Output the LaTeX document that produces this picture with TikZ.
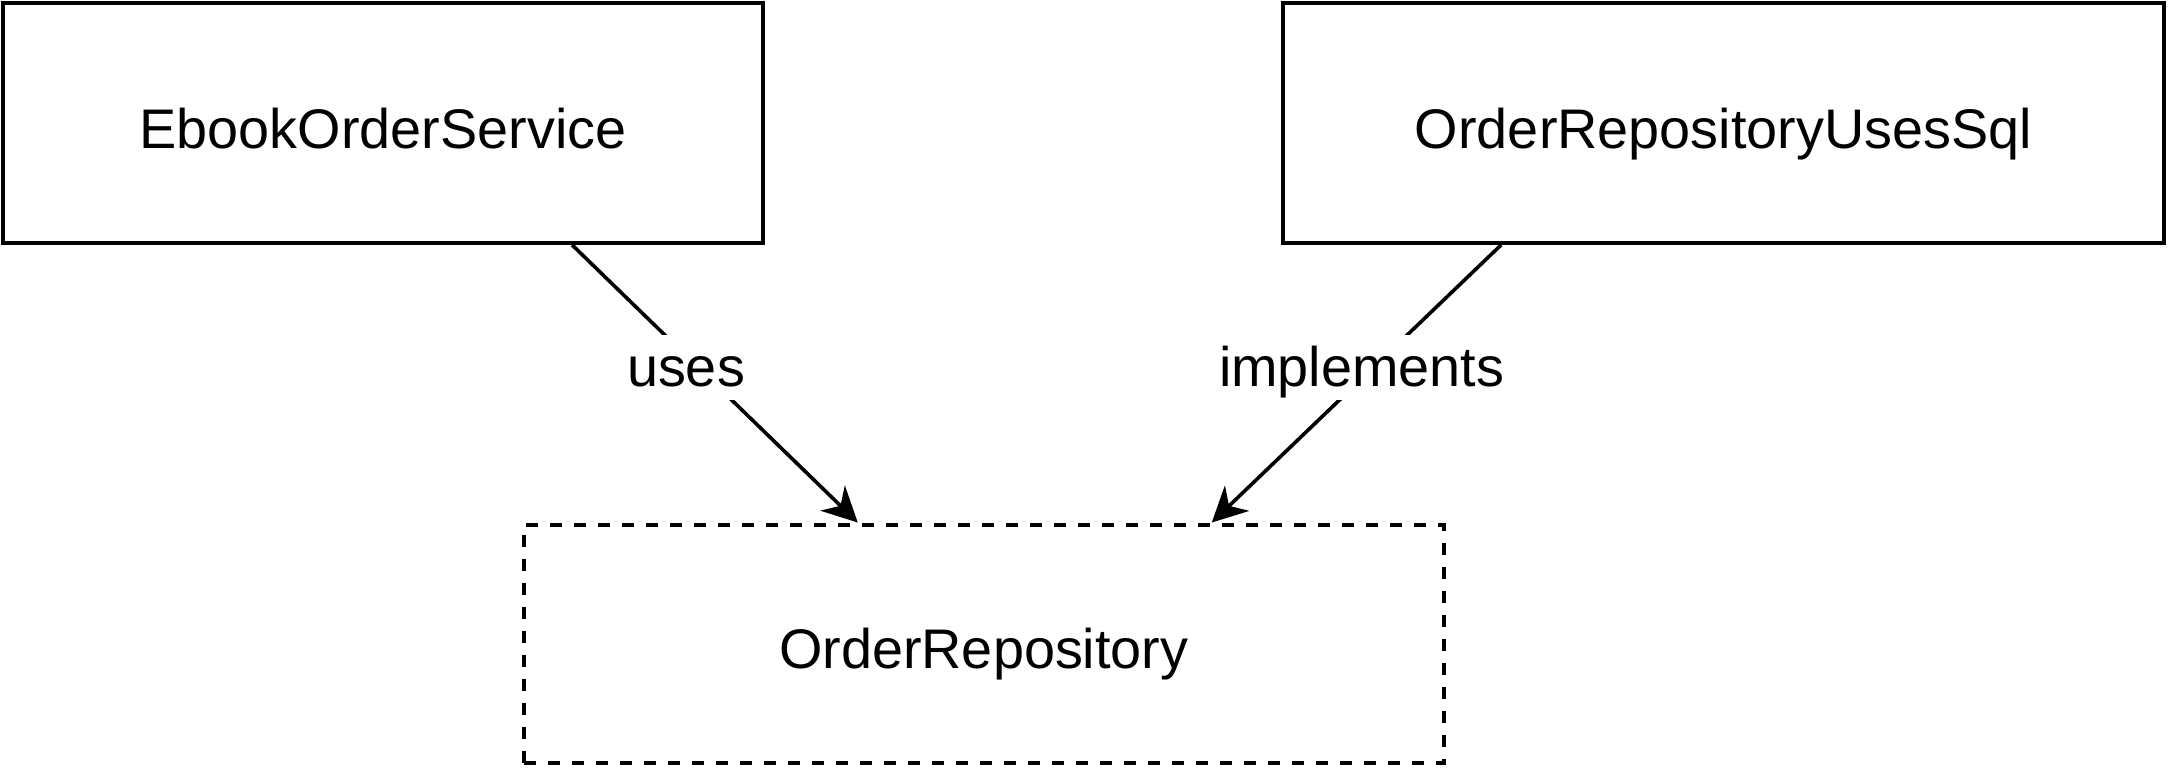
\documentclass[tikz,border=0pt]{standalone}
\usepackage{fontspec}
\setmainfont{Liberation Sans}
\usetikzlibrary{arrows.meta,calc}
\begin{document}
\begin{tikzpicture}[x=0.5pt,y=-0.5pt,
  txt/.style={font=\fontsize{27.9}{33}\selectfont},
  box/.style={txt, draw, line width=1.9pt, rectangle, inner sep=0pt, text height=25pt, text depth=0pt},
  dashbox/.style={box, line width=2pt, dash pattern=on 6pt off 6pt},
  conn/.style={line width=1.8pt, -{Stealth[length=17.5pt,width=17.5pt,inset=5.5pt]}},
  lbl/.style={txt, fill=white, inner xsep=2pt, inner ysep=0pt, text height=25.85pt, text depth=6.65pt}]
\useasboundingbox (0,0) rectangle (2168,767);
\node[box, minimum width=380pt, minimum height=120pt] (svc) at (383,123) {EbookOrderService};
\node[box, minimum width=440.5pt, minimum height=120pt] (impl) at (1723.5,123) {OrderRepositoryUsesSql};
\node[dashbox, minimum width=460pt, minimum height=119pt] (repo) at (983.75,643.5) {OrderRepository};
\draw[conn] ([xshift=285.5pt]svc.south west) -- ([xshift=168pt]repo.north west);
\draw[conn] ([xshift=110pt]impl.south west) -- ([xshift=345pt]repo.north west);
\node[lbl, anchor=base] (l1) at (686,386.7) {uses};
\node[lbl, anchor=base] (l2) at (1361.7,386.7) {implements};
\end{tikzpicture}
\end{document}
